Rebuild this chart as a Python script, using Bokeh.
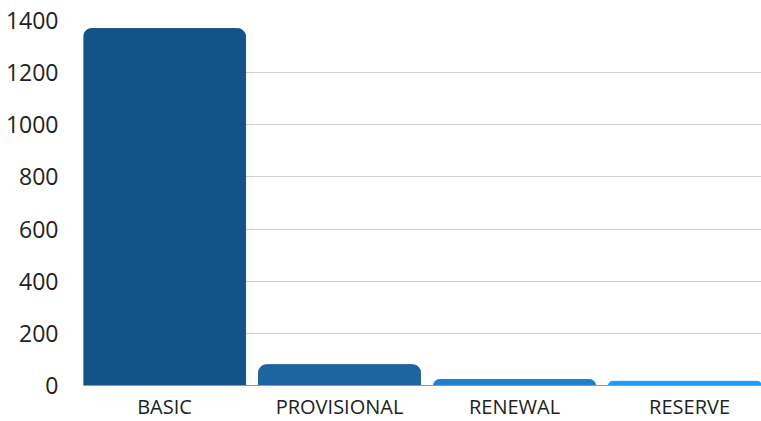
from bokeh.plotting import figure
from bokeh.models import Range1d, FixedTicker
from bokeh.embed import file_html
from bokeh.resources import INLINE

categories = ["BASIC", "PROVISIONAL", "RENEWAL", "RESERVE"]
values = [1369, 80, 23, 16]
colors = ["#125488", "#1e64a0", "#2080d0", "#1a9cff"]
y_ticks = [0, 200, 400, 600, 800, 1000, 1200, 1400]

xs = list(range(len(categories)))

p = figure(frame_width=678, frame_height=365, output_backend="svg", toolbar_location=None,
           x_range=Range1d(-0.463, 3.411), y_range=Range1d(0, 1400),
           min_border_left=83, min_border_right=0, min_border_top=20, min_border_bottom=26)
p.vbar(x=xs, top=values, width=0.926, color=colors, border_radius=(8, 8, 0, 0))

p.outline_line_color = None
p.background_fill_color = "white"
p.border_fill_color = "white"

p.xgrid.grid_line_color = None
p.ygrid.grid_line_color = "#d0d0d0"
p.ygrid.ticker = FixedTicker(ticks=y_ticks)

p.yaxis.ticker = FixedTicker(ticks=y_ticks)
p.yaxis.axis_line_color = None
p.yaxis.major_tick_line_color = None
p.yaxis.minor_tick_line_color = None
p.yaxis.major_label_text_font = "Open Sans"
p.yaxis.major_label_text_font_size = "23px"
p.yaxis.major_label_text_color = "#222222"
p.yaxis.major_label_standoff = 19

p.xaxis.ticker = FixedTicker(ticks=xs)
p.xaxis.major_label_overrides = {i: c for i, c in enumerate(categories)}
p.xaxis.axis_line_color = "#999999"
p.xaxis.major_tick_line_color = None
p.xaxis.minor_tick_line_color = None
p.xaxis.major_label_text_font = "Open Sans"
p.xaxis.major_label_text_font_size = "20px"
p.xaxis.major_label_text_color = "#222222"
p.xaxis.major_label_standoff = 1

open("out.html", "w").write(file_html(p, INLINE))
